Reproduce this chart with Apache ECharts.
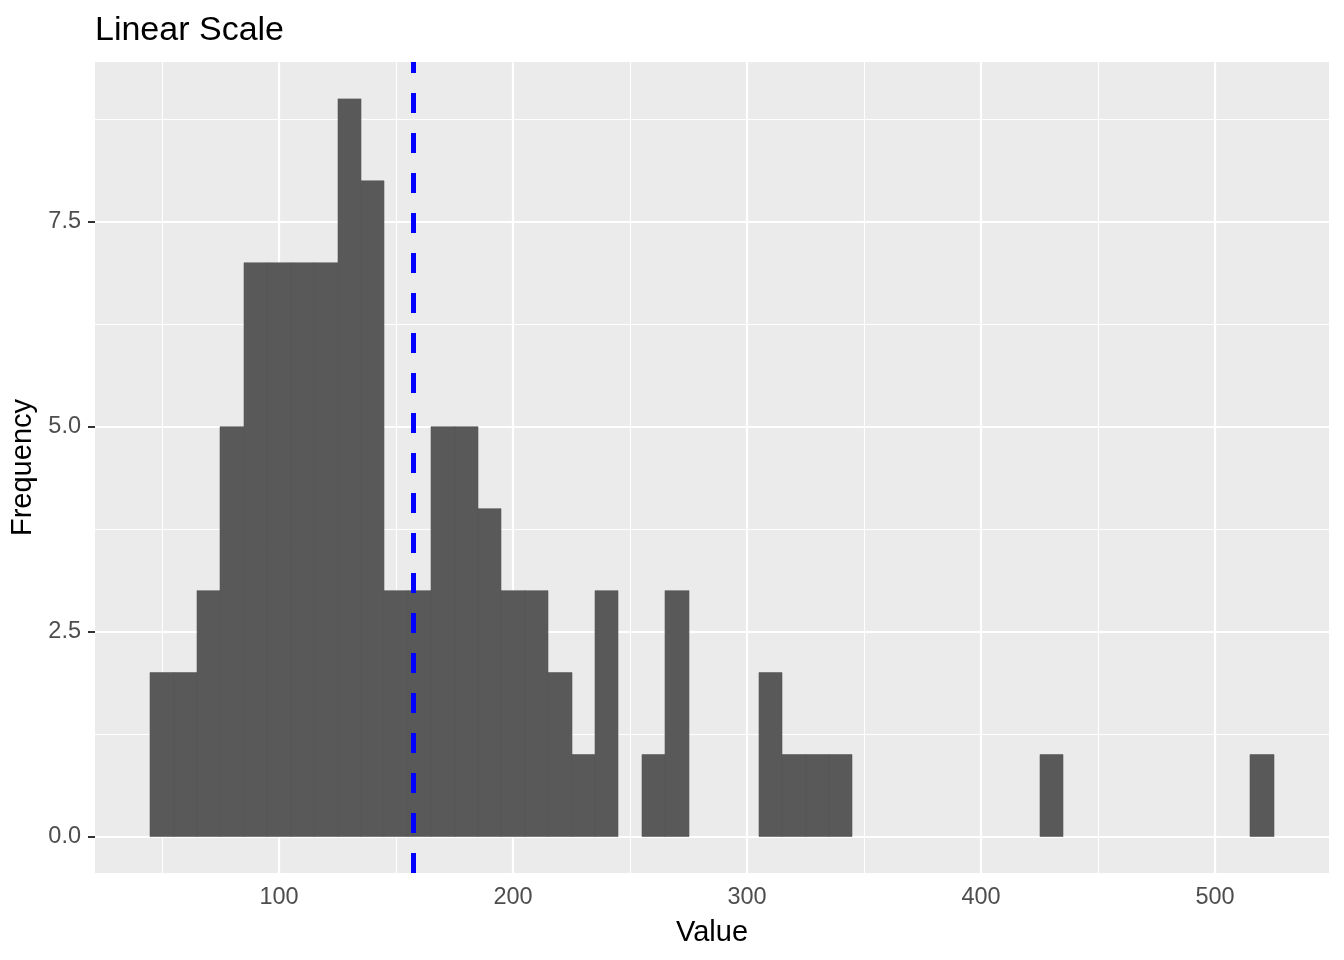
<!DOCTYPE html>
<html>
<head>
<meta charset="utf-8">
<script src="https://cdn.jsdelivr.net/npm/echarts@6/dist/echarts.min.js"></script>
<style>
  html, body { margin: 0; padding: 0; background: #fff; }
  #chart { width: 1344px; height: 960px; }
</style>
</head>
<body>
<div id="chart"></div>
<script>
// histogram bins (left edge), width 10
const binStarts = [45, 55, 65, 75, 85, 95, 105, 115, 125, 135, 145, 155, 165, 175, 185, 195, 205, 215, 225, 235, 255, 265, 305, 315, 325, 335, 425, 515];
const counts = [2, 2, 3, 5, 7, 7, 7, 7, 9, 8, 3, 3, 5, 5, 4, 3, 3, 2, 1, 3, 1, 3, 2, 1, 1, 1, 1, 1];
const binWidth = 10;
const meanValue = 157.5;

// axis breaks
const xMajor = [100, 200, 300, 400, 500];
const xMinor = [50, 150, 250, 350, 450];
const yMajor = [0, 2.5, 5, 7.5];
const yMinor = [1.25, 3.75, 6.25, 8.75];

const FONT = 'Liberation Sans, Arial, sans-serif';

const histData = binStarts.map((s, i) => [s, s + binWidth, counts[i]]);

const gridLines = (vals, width) => ([
  ...vals.x.map(v => ({ xAxis: v, lineStyle: { width: width } })),
  ...vals.y.map(v => ({ yAxis: v, lineStyle: { width: width } }))
]);

const chart = echarts.init(document.getElementById('chart'));

chart.setOption({
  animation: false,
  backgroundColor: '#ffffff',
  title: {
    text: 'Linear Scale',
    left: 90,
    top: 9,
    textStyle: { fontFamily: FONT, fontSize: 34, fontWeight: 'normal', color: '#000' }
  },
  grid: {
    left: 95, right: 15, top: 62, bottom: 87,
    outerBoundsMode: 'none',
    containLabel: false,
    show: true, backgroundColor: '#EBEBEB', borderWidth: 0
  },
  xAxis: {
    type: 'value',
    min: 21.37,
    max: 548.7,
    name: 'Value',
    nameLocation: 'middle',
    nameGap: 45,
    nameTextStyle: { fontFamily: FONT, fontSize: 29, color: '#000' },
    axisLine: { show: false },
    splitLine: { show: false },
    axisTick: { show: true, customValues: xMajor, length: 7, lineStyle: { color: '#333', width: 2 } },
    axisLabel: { customValues: xMajor, fontFamily: FONT, fontSize: 23.5, color: '#4D4D4D', margin: 13 }
  },
  yAxis: {
    type: 'value',
    min: -0.445,
    max: 9.45,
    name: 'Frequency',
    nameLocation: 'middle',
    nameGap: 49,
    nameTextStyle: { fontFamily: FONT, fontSize: 29, color: '#000' },
    axisLine: { show: false },
    splitLine: { show: false },
    axisTick: { show: true, customValues: yMajor, length: 7, lineStyle: { color: '#333', width: 2 } },
    axisLabel: {
      customValues: yMajor, fontFamily: FONT, fontSize: 23.5, color: '#4D4D4D', margin: 14,
      formatter: v => v.toFixed(1)
    }
  },
  series: [
    {
      // background grid lines
      type: 'line',
      data: [],
      z: 1,
      silent: true,
      markLine: {
        z: 1,
        silent: true,
        symbol: 'none',
        label: { show: false },
        lineStyle: { color: '#ffffff', type: 'solid' },
        emphasis: { disabled: true },
        data: [
          ...gridLines({ x: xMinor, y: yMinor }, 1.1),
          ...gridLines({ x: xMajor, y: yMajor }, 2.2)
        ]
      }
    },
    {
      type: 'custom',
      z: 2,
      data: histData,
      renderItem: (params, api) => {
        const p0 = api.coord([api.value(0), api.value(2)]);
        const p1 = api.coord([api.value(1), 0]);
        const x0 = Math.round(p0[0]);
        const x1 = Math.round(p1[0]);
        return {
          type: 'rect',
          shape: { x: x0, y: p0[1], width: x1 - x0, height: p1[1] - p0[1] },
          style: { fill: '#595959', stroke: '#595959', lineWidth: 0.6 }
        };
      }
    },
    {
      // mean line
      type: 'line',
      data: [],
      z: 3,
      silent: true,
      markLine: {
        z: 10,
        silent: true,
        symbol: 'none',
        label: { show: false },
        emphasis: { disabled: true },
        lineStyle: { color: '#0000FF', width: 5, type: [20, 20] },
        data: [{ xAxis: meanValue }]
      }
    }
  ]
});
</script>
</body>
</html>
